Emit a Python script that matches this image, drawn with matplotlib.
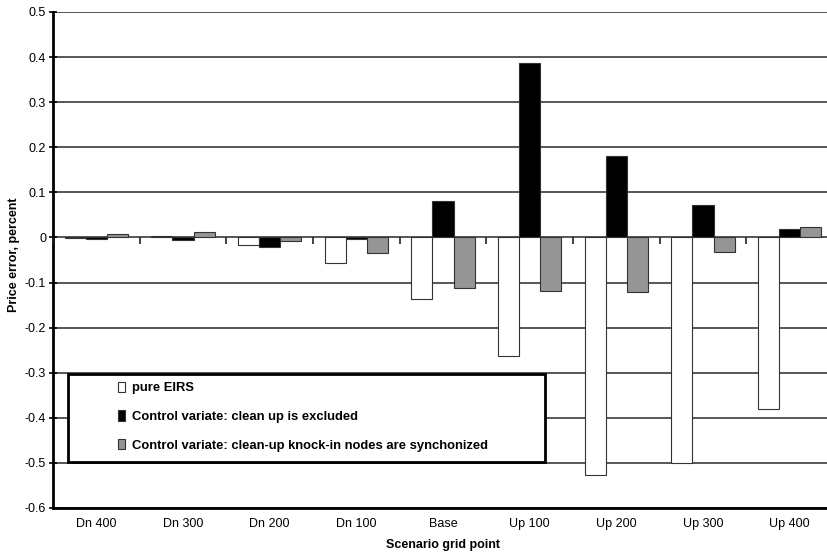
import numpy as np
import matplotlib
matplotlib.use('Agg')
from matplotlib import pyplot as plt
from matplotlib.patches import Patch, Rectangle

plt.rcParams['font.family'] = ['Liberation Sans', 'DejaVu Sans']

categories = ['Dn 400', 'Dn 300', 'Dn 200', 'Dn 100', 'Base',
              'Up 100', 'Up 200', 'Up 300', 'Up 400']
pure_eirs = [-0.001, 0.004, -0.016, -0.056, -0.137, -0.263, -0.527, -0.500, -0.381]
cv_excluded = [-0.003, -0.006, -0.021, -0.004, 0.081, 0.386, 0.181, 0.072, 0.019]
cv_synced = [0.008, 0.012, -0.007, -0.035, -0.112, -0.118, -0.121, -0.033, 0.024]
series_labels = ['pure EIRS',
                 'Control variate: clean up is excluded',
                 'Control variate: clean-up knock-in nodes are synchonized']
y_ticks = [0.5, 0.4, 0.3, 0.2, 0.1, 0, -0.1, -0.2, -0.3, -0.4, -0.5, -0.6]


def main():
    fig = plt.figure(figsize=(8.27, 5.55), dpi=100)
    # axes runs slightly past the right edge, like the cropped original
    ax = fig.add_axes([53 / 827, 47 / 555, 780 / 827, 496 / 555])

    x = np.arange(len(categories))
    width = 0.243
    colors = ['white', 'black', '#959595']
    for k, (vals, col) in enumerate(zip([pure_eirs, cv_excluded, cv_synced], colors)):
        ax.bar(x + (k - 1) * width, vals, width, color=col,
               edgecolor='#333333', linewidth=0.8, zorder=3)

    ax.set_xlim(-0.5, len(categories) - 0.5)
    ax.set_ylim(-0.6, 0.5)
    ax.set_yticks(y_ticks)
    ax.set_yticklabels(['0' if t == 0 else f'{t:g}' for t in y_ticks], fontsize=9)
    ax.tick_params(axis='y', direction='inout', length=6, width=1.2, pad=2)
    ax.set_xticks(x)
    ax.set_xticklabels(categories, fontsize=9)
    ax.tick_params(axis='x', length=0, pad=7)

    ax.yaxis.grid(True, color='#3a3a3a', linewidth=1.2, zorder=0)
    ax.set_axisbelow(True)
    for side in ['top', 'right']:
        ax.spines[side].set_visible(False)
    ax.spines['left'].set_linewidth(2)
    ax.spines['bottom'].set_linewidth(2)

    # category boundary ticks hanging from the zero line
    bounds = np.arange(len(categories) + 1) - 0.5
    ax.plot(bounds, np.zeros_like(bounds), linestyle='none', marker=3,
            markersize=5, color='#222222', markeredgewidth=1.2, zorder=4,
            clip_on=False)

    ax.set_ylabel('Price error, percent', fontsize=9, fontweight='bold', labelpad=4)
    ax.yaxis.set_label_coords(-0.042, 0.51)
    ax.set_xlabel('Scenario grid point', fontsize=9, fontweight='bold', labelpad=7)

    # legend frame
    ax.add_patch(Rectangle((15 / 780, 46 / 496), 477 / 780, 88 / 496,
                           transform=ax.transAxes, facecolor='white',
                           edgecolor='black', linewidth=2, zorder=5))
    handles = [Patch(facecolor=c, edgecolor='#333333', linewidth=0.8) for c in colors]
    leg = ax.legend(handles, series_labels, loc='upper left',
                    bbox_to_anchor=(65 / 780, 126.5 / 496), frameon=False,
                    prop={'size': 9.4, 'weight': 'bold'},
                    handlelength=0.55, handleheight=0.85, handletextpad=0.5,
                    labelspacing=1.22, borderpad=0, borderaxespad=0)
    leg.set_zorder(6)

    fig.savefig('out.png', dpi=100)
    plt.close(fig)


if __name__ == '__main__':
    main()
